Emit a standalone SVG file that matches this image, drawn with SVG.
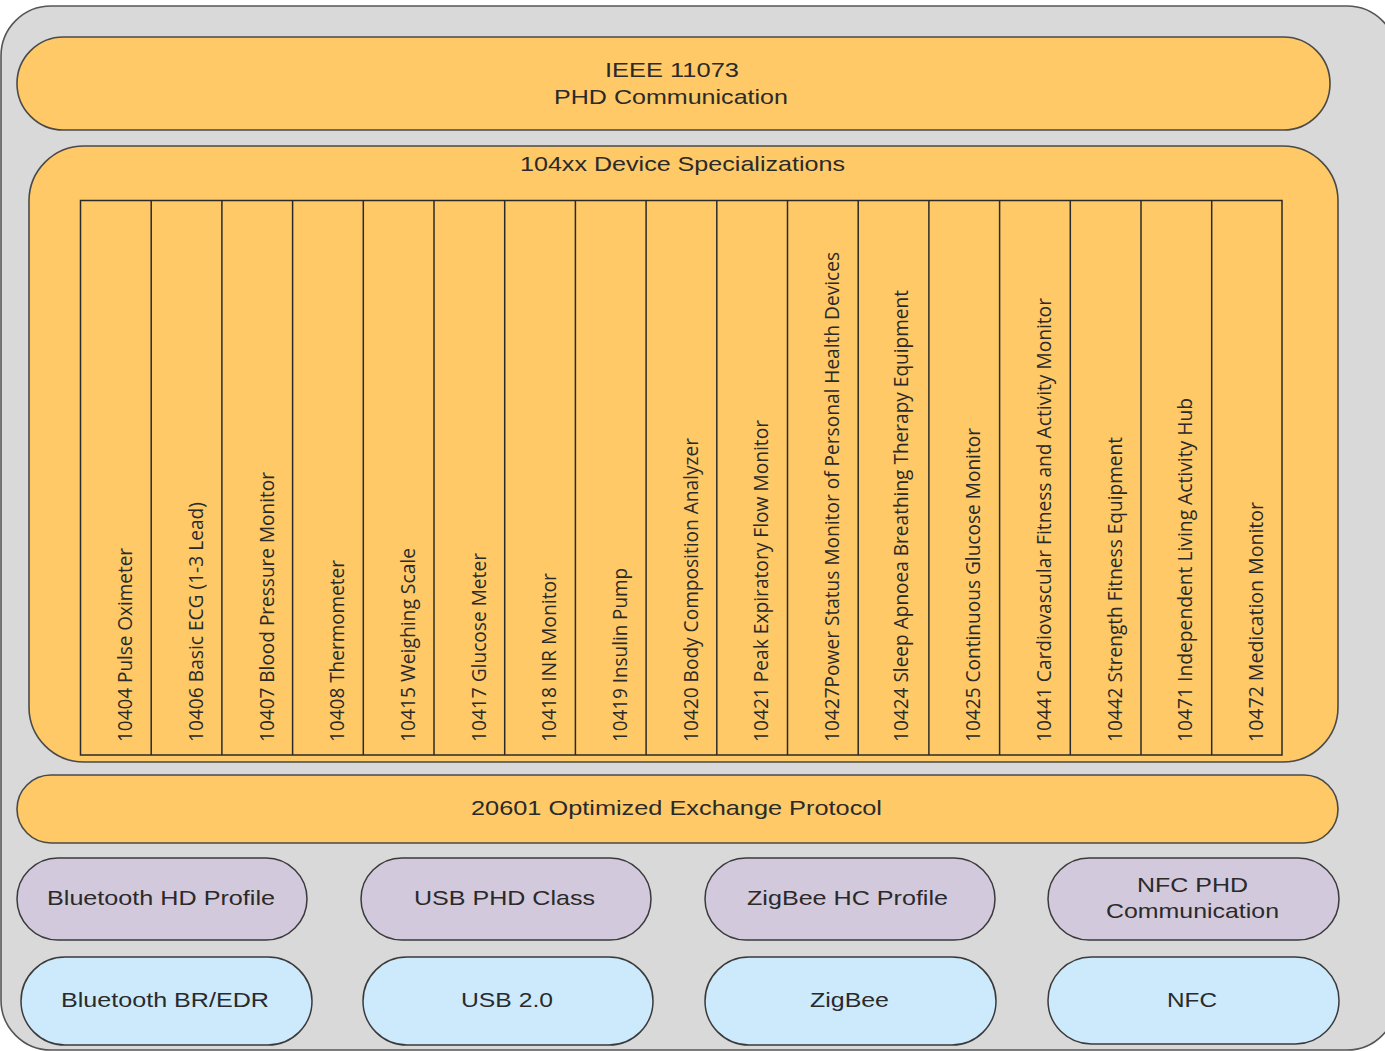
<svg xmlns="http://www.w3.org/2000/svg" width="1385" height="1051" viewBox="0 0 1385 1051">
<style>
.lbl{font-family:"Liberation Sans",Arial,sans-serif;font-size:21px;fill:#2a2a2a}
.col{font-family:"Open Sans","Liberation Sans",sans-serif;font-size:20px;fill:#2a2a2a}
.org{fill:#fec966;stroke:#4a4a4a;stroke-width:1.6}
.pur{fill:#d3c9dd;stroke:#3a3a3a;stroke-width:1.5}
.blu{fill:#cdeafc;stroke:#3a3a3a;stroke-width:1.5}
.tbl{fill:none;stroke:#2a2a2a;stroke-width:1.5}
</style>
<rect width="1385" height="1051" fill="#ffffff"/>
<g id="container">
<rect x="1" y="6" width="1396" height="1044" rx="50" ry="50" fill="#d9d9d9" stroke="#555" stroke-width="1.6"/>
</g>
<g id="ieee11073">
<rect class="org" x="17" y="37" width="1313" height="93" rx="46.5" ry="46.5"/>
<text class="lbl" x="605" y="77" textLength="134" lengthAdjust="spacingAndGlyphs">IEEE 11073</text>
<text class="lbl" x="554" y="103.5" textLength="234" lengthAdjust="spacingAndGlyphs">PHD Communication</text>
</g>
<g id="device-specializations">
<rect class="org" x="29" y="146" width="1309" height="616" rx="55" ry="55"/>
<text class="lbl" x="520" y="171" textLength="325" lengthAdjust="spacingAndGlyphs">104xx Device Specializations</text>
<rect class="tbl" x="80.5" y="200.5" width="1201.5" height="554.5"/>
<g class="tbl">
<line x1="151.2" y1="200.5" x2="151.2" y2="755"/>
<line x1="221.9" y1="200.5" x2="221.9" y2="755"/>
<line x1="292.6" y1="200.5" x2="292.6" y2="755"/>
<line x1="363.3" y1="200.5" x2="363.3" y2="755"/>
<line x1="434.0" y1="200.5" x2="434.0" y2="755"/>
<line x1="504.7" y1="200.5" x2="504.7" y2="755"/>
<line x1="575.4" y1="200.5" x2="575.4" y2="755"/>
<line x1="646.1" y1="200.5" x2="646.1" y2="755"/>
<line x1="716.8" y1="200.5" x2="716.8" y2="755"/>
<line x1="787.5" y1="200.5" x2="787.5" y2="755"/>
<line x1="858.2" y1="200.5" x2="858.2" y2="755"/>
<line x1="928.9" y1="200.5" x2="928.9" y2="755"/>
<line x1="999.6" y1="200.5" x2="999.6" y2="755"/>
<line x1="1070.3" y1="200.5" x2="1070.3" y2="755"/>
<line x1="1141.0" y1="200.5" x2="1141.0" y2="755"/>
<line x1="1211.7" y1="200.5" x2="1211.7" y2="755"/>
</g>
<text class="col" x="132" y="742" transform="rotate(-90 132 742)" textLength="194" lengthAdjust="spacingAndGlyphs">10404 Pulse Oximeter</text>
<text class="col" x="203" y="742" transform="rotate(-90 203 742)" textLength="240" lengthAdjust="spacingAndGlyphs">10406 Basic ECG (1-3 Lead)</text>
<text class="col" x="273.5" y="742" transform="rotate(-90 273.5 742)" textLength="270" lengthAdjust="spacingAndGlyphs">10407 Blood Pressure Monitor</text>
<text class="col" x="344" y="742" transform="rotate(-90 344 742)" textLength="182" lengthAdjust="spacingAndGlyphs">10408 Thermometer</text>
<text class="col" x="415" y="742" transform="rotate(-90 415 742)" textLength="194" lengthAdjust="spacingAndGlyphs">10415 Weighing Scale</text>
<text class="col" x="485.5" y="742" transform="rotate(-90 485.5 742)" textLength="189" lengthAdjust="spacingAndGlyphs">10417 Glucose Meter</text>
<text class="col" x="556" y="742" transform="rotate(-90 556 742)" textLength="169" lengthAdjust="spacingAndGlyphs">10418 INR Monitor</text>
<text class="col" x="627" y="742" transform="rotate(-90 627 742)" textLength="174" lengthAdjust="spacingAndGlyphs">10419 Insulin Pump</text>
<text class="col" x="697.5" y="742" transform="rotate(-90 697.5 742)" textLength="304" lengthAdjust="spacingAndGlyphs">10420 Body Composition Analyzer</text>
<text class="col" x="768" y="742" transform="rotate(-90 768 742)" textLength="322" lengthAdjust="spacingAndGlyphs">10421 Peak Expiratory Flow Monitor</text>
<text class="col" x="839" y="742" transform="rotate(-90 839 742)" textLength="490" lengthAdjust="spacingAndGlyphs">10427Power Status Monitor of Personal Health Devices</text>
<text class="col" x="908" y="742" transform="rotate(-90 908 742)" textLength="452" lengthAdjust="spacingAndGlyphs">10424 Sleep Apnoea Breathing Therapy Equipment</text>
<text class="col" x="980" y="742" transform="rotate(-90 980 742)" textLength="314" lengthAdjust="spacingAndGlyphs">10425 Continuous Glucose Monitor</text>
<text class="col" x="1051" y="742" transform="rotate(-90 1051 742)" textLength="444" lengthAdjust="spacingAndGlyphs">10441 Cardiovascular Fitness and Activity Monitor</text>
<text class="col" x="1122" y="742" transform="rotate(-90 1122 742)" textLength="305" lengthAdjust="spacingAndGlyphs">10442 Strength Fitness Equipment</text>
<text class="col" x="1192" y="742" transform="rotate(-90 1192 742)" textLength="344" lengthAdjust="spacingAndGlyphs">10471 Independent Living Activity Hub</text>
<text class="col" x="1263" y="742" transform="rotate(-90 1263 742)" textLength="240" lengthAdjust="spacingAndGlyphs">10472 Medication Monitor</text>
</g>
<g id="optimized-exchange">
<rect class="org" x="17" y="775" width="1321" height="68" rx="34" ry="34"/>
<text class="lbl" x="471" y="815" textLength="411" lengthAdjust="spacingAndGlyphs">20601 Optimized Exchange Protocol</text>
</g>
<g id="bluetooth-hd-profile">
<rect class="pur" x="17" y="858" width="290" height="82" rx="41" ry="41"/>
<text class="lbl" x="47" y="904.5" textLength="228" lengthAdjust="spacingAndGlyphs">Bluetooth HD Profile</text>
</g>
<g id="usb-phd-class">
<rect class="pur" x="361" y="858" width="290" height="82" rx="41" ry="41"/>
<text class="lbl" x="414" y="904.5" textLength="181" lengthAdjust="spacingAndGlyphs">USB PHD Class</text>
</g>
<g id="zigbee-hc-profile">
<rect class="pur" x="705" y="858" width="290" height="82" rx="41" ry="41"/>
<text class="lbl" x="747" y="904.5" textLength="201" lengthAdjust="spacingAndGlyphs">ZigBee HC Profile</text>
</g>
<g id="nfc-phd-communication">
<rect class="pur" x="1048" y="858" width="291" height="82" rx="41" ry="41"/>
<text class="lbl" x="1137" y="892" textLength="111" lengthAdjust="spacingAndGlyphs">NFC PHD</text>
<text class="lbl" x="1106" y="918" textLength="173" lengthAdjust="spacingAndGlyphs">Communication</text>
</g>
<g id="bluetooth-br-edr">
<rect class="blu" x="21" y="957" width="291" height="88" rx="44" ry="44"/>
<text class="lbl" x="61" y="1006.5" textLength="208" lengthAdjust="spacingAndGlyphs">Bluetooth BR/EDR</text>
</g>
<g id="usb-2-0">
<rect class="blu" x="363" y="957" width="290" height="88" rx="44" ry="44"/>
<text class="lbl" x="461" y="1006.5" textLength="92" lengthAdjust="spacingAndGlyphs">USB 2.0</text>
</g>
<g id="zigbee">
<rect class="blu" x="705" y="957" width="291" height="88" rx="44" ry="44"/>
<text class="lbl" x="810" y="1006.5" textLength="79" lengthAdjust="spacingAndGlyphs">ZigBee</text>
</g>
<g id="nfc">
<rect class="blu" x="1048" y="957" width="291" height="87" rx="43.5" ry="43.5"/>
<text class="lbl" x="1167" y="1006.5" textLength="50" lengthAdjust="spacingAndGlyphs">NFC</text>
</g>
<g id="connectors"/>
</svg>
